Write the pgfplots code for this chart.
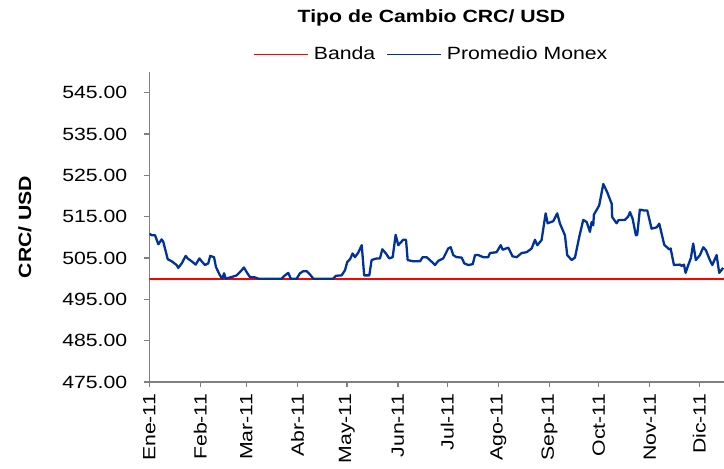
\documentclass[border=0pt]{standalone}
\usepackage{pgfplots}
\pgfplotsset{compat=1.18}
\usepackage{fontspec}
\setmainfont{Liberation Sans}[FakeStretch=1.2]
\definecolor{monex}{RGB}{0,51,153}
\definecolor{axgray}{RGB}{128,128,128}

\pgfplotstableread{
day value
0 510.9
1.5 510.5
3.5 510.5
5.5 508.3
7.5 509.5
8.5 508.9
11.2 504.7
13.6 504.2
16.6 503.3
17.6 502.6
19.7 503.7
22.1 505.5
23.3 504.9
25.7 504.2
28.2 503.4
30.4 504.9
31.8 504.2
33.8 503.3
35.8 503.7
37.0 505.5
39.3 505.2
40.5 502.8
42.9 500.8
44.3 500.0
45.4 501.3
46.4 500.0
50.0 500.4
53.1 500.8
55.1 501.6
57.5 502.7
59.1 501.6
61.1 500.4
64.2 500.3
66.2 500.0
80.4 500.0
82.4 500.8
84.4 501.4
85.9 500.0
89.5 500.0
91.5 501.3
93.5 501.8
95.6 501.8
97.6 501.0
99.6 500.0
111.7 500.0
113.4 500.7
116.8 500.8
118.8 502.0
120.2 504.0
121.9 504.7
123.5 506.1
124.9 505.2
126.9 506.3
129.0 508.1
130.5 500.8
133.6 500.8
135.0 504.5
138.1 504.9
140.1 504.9
141.5 507.1
143.7 506.1
145.7 504.9
147.8 505.2
149.6 510.6
151.2 508.1
154.2 509.4
155.9 509.4
156.9 504.5
160.3 504.2
164.4 504.2
166.0 505.2
168.4 505.2
170.4 504.5
173.5 503.3
175.5 504.3
178.5 504.9
181.5 507.3
183.0 507.6
184.6 505.7
186.6 505.2
189.7 505.1
191.3 503.7
193.7 503.3
196.4 503.5
197.8 505.7
199.8 505.7
202.8 505.2
205.8 505.2
206.9 506.2
210.9 506.4
213.4 508.1
214.6 507.0
218.0 507.5
220.6 505.4
223.1 505.2
226.1 506.2
229.1 506.4
232.2 507.3
234.2 509.4
235.6 508.1
238.2 509.3
240.7 515.8
241.9 513.4
245.3 513.9
247.7 515.8
249.4 513.3
252.4 510.5
253.8 505.7
256.5 504.5
258.5 505.1
261.1 510.1
263.5 514.2
265.6 513.7
267.6 511.3
268.6 513.7
269.6 512.9
270.0 515.5
273.2 517.7
275.7 522.9
278.1 520.9
280.8 518.1
281.1 514.9
283.8 513.4
285.0 514.2
288.8 514.2
290.8 515.0
291.9 516.1
293.5 514.5
295.5 510.5
296.3 510.6
297.9 516.7
300.4 516.5
302.4 516.5
305.0 512.1
308.1 512.4
309.7 513.3
312.7 508.2
315.7 507.1
316.6 507.3
318.6 503.3
322.3 503.4
323.3 503.1
324.7 503.4
325.7 501.4
327.3 503.3
328.9 505.0
330.3 508.5
331.9 504.5
334.4 505.7
336.4 507.6
338.0 506.9
340.4 504.5
341.9 503.3
344.5 505.7
346.1 501.4
348.5 502.6
}\monex

\begin{document}
\begin{tikzpicture}[font=\fontsize{8.85}{10.6}\selectfont]
\begin{axis}[
    at={(0,0)}, anchor=south west,
    scale only axis,
    width=287.35pt, height=155pt,
    font=\fontsize{8.85}{10.6}\selectfont,
    xmin=0, xmax=349,
    ymin=475, ymax=550,
    axis x line*=bottom, axis y line*=left,
    axis line style={axgray, line width=0.6pt},
    tick align=outside,
    major tick length=2.5pt,
    tick style={axgray, line width=0.6pt},
    xtick={0,31,59,90,120,151,181,212,243,273,304,334},
    xticklabels={Ene-11,Feb-11,Mar-11,Abr-11,May-11,Jun-11,Jul-11,Ago-11,Sep-11,Oct-11,Nov-11,Dic-11},
    xticklabel style={rotate=90, anchor=east},
    ytick={475,485,...,545},
    yticklabel style={xshift=-5pt, /pgf/number format/.cd, fixed, fixed zerofill, precision=2, assume math mode=true},
    ylabel={\bfseries CRC/ USD},
    ylabel style={at={(axis description cs:-0.2163,0.5)}, anchor=center},
    title={\bfseries Tipo de Cambio CRC/ USD},
    title style={at={(axis description cs:0.491,1)}, anchor=center, yshift=20.85pt},
    legend style={at={(axis description cs:0.4937,1)}, anchor=center, yshift=8.85pt,
        draw=none, fill=none, legend columns=-1,
        nodes={inner sep=2.6pt},
        /tikz/every even column/.append style={column sep=3pt}},
    legend image code/.code={\draw[#1, line width=0.6pt] (0pt,0pt) -- (27pt,0pt);},
]
\addplot[red, line width=1pt] coordinates {(0,500) (349,500)};
\addplot[monex, line width=1.15pt, line join=round] table[x=day, y=value] {\monex};
\legend{Banda, Promedio Monex}
\end{axis}
\pgfresetboundingbox
\path[use as bounding box] (-74.65pt,-43.5pt) rectangle (287.35pt,191pt);
\end{tikzpicture}
\end{document}
